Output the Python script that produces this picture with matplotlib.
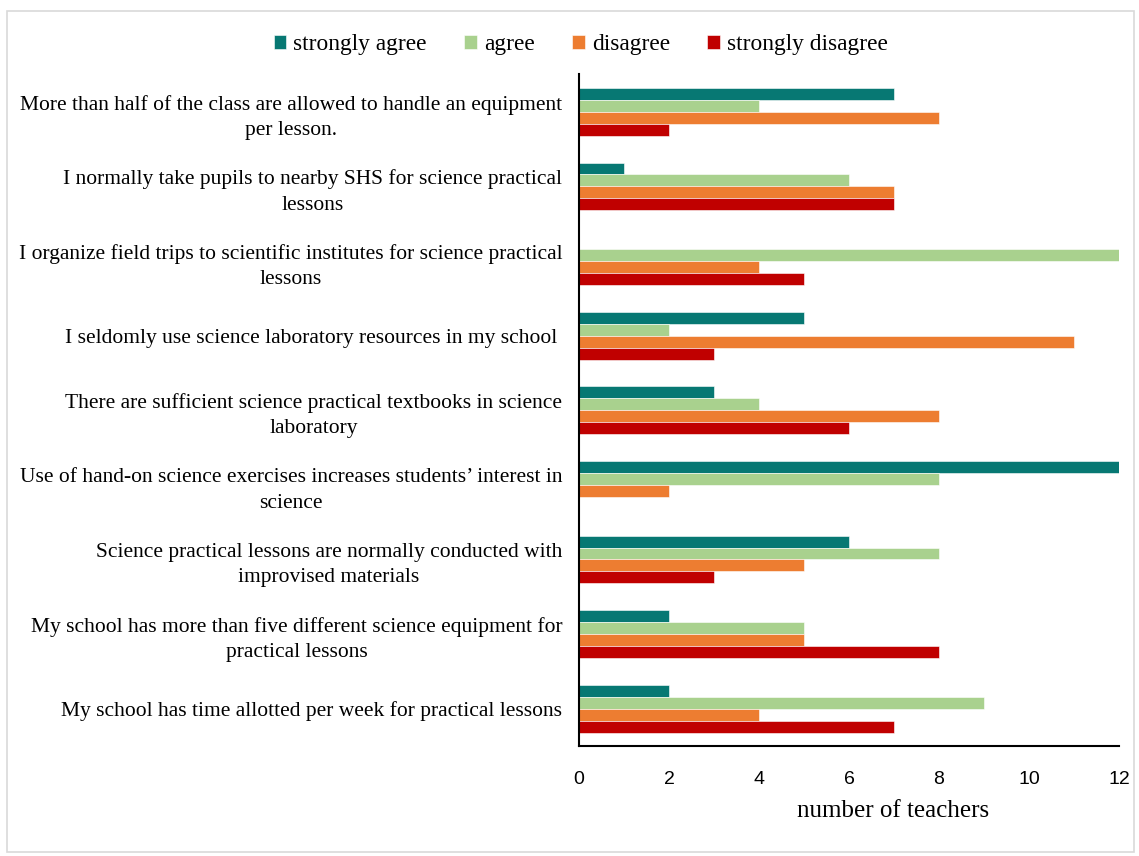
import numpy as np
import matplotlib.pyplot as plt
from matplotlib.patches import Rectangle

statements = [
    "More than half of the class are allowed to handle an equipment\nper lesson.",
    "I normally take pupils to nearby SHS for science practical\nlessons",
    "I organize field trips to scientific institutes for science practical\nlessons",
    "I seldomly use science laboratory resources in my school ",
    "There are sufficient science practical textbooks in science\nlaboratory",
    "Use of hand-on science exercises increases students\u2019 interest in\nscience",
    "Science practical lessons are normally conducted with\nimprovised materials",
    "My school has more than five different science equipment for\npractical lessons",
    "My school has time allotted per week for practical lessons",
]
strongly_agree = [7, 1, 0, 5, 3, 12, 6, 2, 2]
agree = [4, 6, 12, 2, 4, 8, 8, 5, 9]
disagree = [8, 7, 4, 11, 8, 2, 5, 5, 4]
strongly_disagree = [2, 7, 5, 3, 6, 0, 3, 8, 7]

series = [
    ("strongly agree", strongly_agree, "#077873"),
    ("agree", agree, "#A9D18E"),
    ("disagree", disagree, "#ED7D31"),
    ("strongly disagree", strongly_disagree, "#C00000"),
]

serif = "Liberation Serif"
sans = "Liberation Sans"

fig = plt.figure(figsize=(11.39, 8.56), dpi=100)
ax = fig.add_axes([0.5083, 0.1285, 0.4741, 0.7845])

y = np.arange(len(statements))
h = 0.16
for i, (name, vals, col) in enumerate(series):
    ax.barh(y + (i - 1.5) * h, vals, height=h, color=col, label=name,
            edgecolor="white", linewidth=0.4)

ax.set_ylim(len(statements) - 0.5, -0.5)
ax.set_xlim(0, 12)
ax.set_xticks(np.arange(0, 13, 2))
ax.set_yticks(y)
ax.set_yticklabels(statements, fontfamily=serif, fontsize=15.5,
                   multialignment="center", linespacing=1.45)
ax.tick_params(axis="y", length=0, pad=12)
ax.tick_params(axis="x", length=0, pad=18, labelsize=14)
for lab in ax.get_xticklabels():
    lab.set_fontfamily(sans)

for s in ["top", "right"]:
    ax.spines[s].set_visible(False)
ax.spines["left"].set_linewidth(1.5)
ax.spines["bottom"].set_linewidth(1.5)

ax.text(0.581, -0.097, "number of teachers", transform=ax.transAxes,
        ha="center", va="center", fontfamily=serif, fontsize=18)

fig.legend(loc="center", bbox_to_anchor=(0.51, 0.948), ncol=4, frameon=False,
           prop={"family": serif, "size": 16.8}, handlelength=0.55,
           handleheight=0.55, handletextpad=0.3, columnspacing=1.6)

# light frame around the whole figure
fig.patches.append(Rectangle((0.006, 0.005), 0.99, 0.982, transform=fig.transFigure,
                             fill=False, edgecolor="#d9d9d9", linewidth=1.2))

fig.savefig("out.png", dpi=100)
